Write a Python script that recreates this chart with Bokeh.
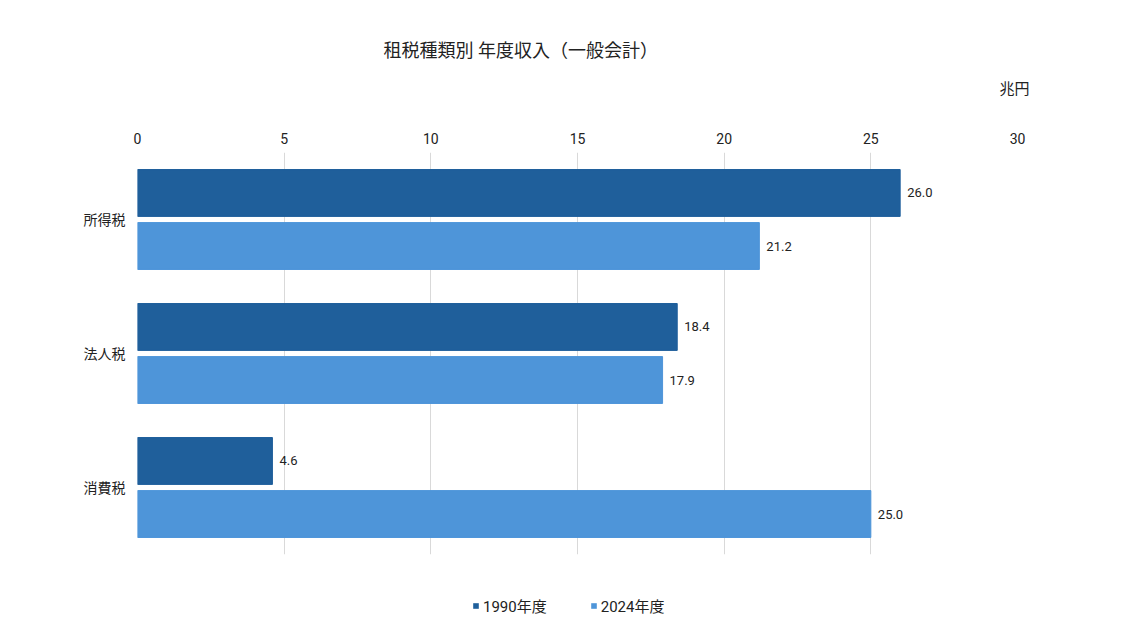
from bokeh.plotting import figure
from bokeh.layouts import column
from bokeh.models import FactorRange, ColumnDataSource, LabelSet, Title, Legend, LegendItem
from bokeh.transform import dodge
from bokeh.core.properties import value
from bokeh.embed import file_html
from bokeh.resources import INLINE

categories = ["所得税", "法人税", "消費税"]
years = ["1990年度", "2024年度"]
values_1990 = [26.0, 18.4, 4.6]
values_2024 = [21.2, 17.9, 25.0]
x_ticks = [0, 5, 10, 15, 20, 25, 30]

title_text = "租税種類別 年度収入（一般会計）"
unit_text = "兆円"

FONT = "Roboto, 'Noto Sans CJK JP'"
C1990 = "#1f5f9b"
C2024 = "#4e95d9"

src = ColumnDataSource(dict(
    cat=categories,
    v1990=values_1990,
    v2024=values_2024,
    t1990=[f"{v:.1f}" for v in values_1990],
    t2024=[f"{v:.1f}" for v in values_2024],
))

p = figure(
    width=1122, height=570,
    y_range=FactorRange(factors=list(reversed(categories))),
    x_range=(0, 30),
    x_axis_location="above",
    output_backend="svg", toolbar_location=None,
    min_border_left=137, min_border_right=105, min_border_top=152, min_border_bottom=16,
)
p.outline_line_color = None
p.background_fill_color = "white"
p.border_fill_color = "white"

p.hbar(y=dodge("cat", 0.198, range=p.y_range), right="v1990", left=0, height=0.35,
       source=src, fill_color=C1990, line_color=C1990)
p.hbar(y=dodge("cat", -0.198, range=p.y_range), right="v2024", left=0, height=0.35,
       source=src, fill_color=C2024, line_color=C2024)

for col, txt, off in (("v1990", "t1990", 0.198), ("v2024", "t2024", -0.198)):
    ls = LabelSet(x=col, y=dodge("cat", off, range=p.y_range), text=txt, source=src,
                  x_offset=7, text_baseline="middle", text_align="left",
                  text_font_size="13px", text_color="#222222", text_font=value(FONT))
    p.add_layout(ls)

# axes
xa = p.xaxis[0]
xa.ticker = x_ticks
xa.axis_line_color = None
xa.major_tick_line_color = None
xa.minor_tick_line_color = None
xa.major_tick_out = 0
xa.major_label_standoff = 9
xa.major_label_text_font_size = "14px"
xa.major_label_text_color = "#222222"
xa.major_label_text_font = FONT

ya = p.yaxis[0]
ya.axis_line_color = None
ya.major_tick_line_color = None
ya.minor_tick_line_color = None
ya.major_tick_out = 0
ya.major_label_standoff = 12
ya.major_label_text_font_size = "14px"
ya.major_label_text_color = "#222222"
ya.major_label_text_font = FONT

p.xgrid.grid_line_color = "#d9d9d9"
p.xgrid.ticker = x_ticks
p.ygrid.grid_line_color = None

# white (invisible) spacer above the axis, then the unit label, then main title (outermost)
p.add_layout(Title(text=".", text_color="white", text_font_size="2px", standoff=29), "above")
p.add_layout(Title(text=unit_text, align="left", offset=862, standoff=0,
                   text_font_size="15px", text_font_style="normal",
                   text_color="#222222", text_font=FONT), "above")
p.title.text = title_text
p.title.align = "left"
p.title.offset = 246
p.title.standoff = 33
p.title.text_font_size = "18px"
p.title.text_font_style = "normal"
p.title.text_color = "#222222"
p.title.text_font = FONT

# legend strip below the chart (zero-height proxies carry the series colours)
p2 = figure(width=1122, height=54, x_axis_type=None, y_axis_type=None,
            x_range=(0, 30), y_range=FactorRange(factors=list(reversed(categories))),
            output_backend="svg", toolbar_location=None,
            min_border_left=0, min_border_right=0, min_border_top=0, min_border_bottom=0)
p2.outline_line_color = None
p2.xgrid.grid_line_color = None
p2.ygrid.grid_line_color = None
lr1 = p2.hbar(y="cat", right="v1990", left=0, height=0, source=src,
              fill_color=C1990, line_color=None)
lr2 = p2.hbar(y="cat", right="v2024", left=0, height=0, source=src,
              fill_color=C2024, line_color=None)
legend = Legend(items=[LegendItem(label=years[0], renderers=[lr1]),
                       LegendItem(label=years[1], renderers=[lr2])],
                location=(335, 8), orientation="horizontal",
                glyph_width=7, glyph_height=7, label_standoff=4, spacing=43,
                padding=0, margin=0, border_line_color=None, background_fill_alpha=0,
                label_text_font_size="15px", label_text_color="#222222",
                label_text_font=FONT)
p2.add_layout(legend, "center")

open("out.html", "w").write(file_html(column(p, p2), INLINE))
